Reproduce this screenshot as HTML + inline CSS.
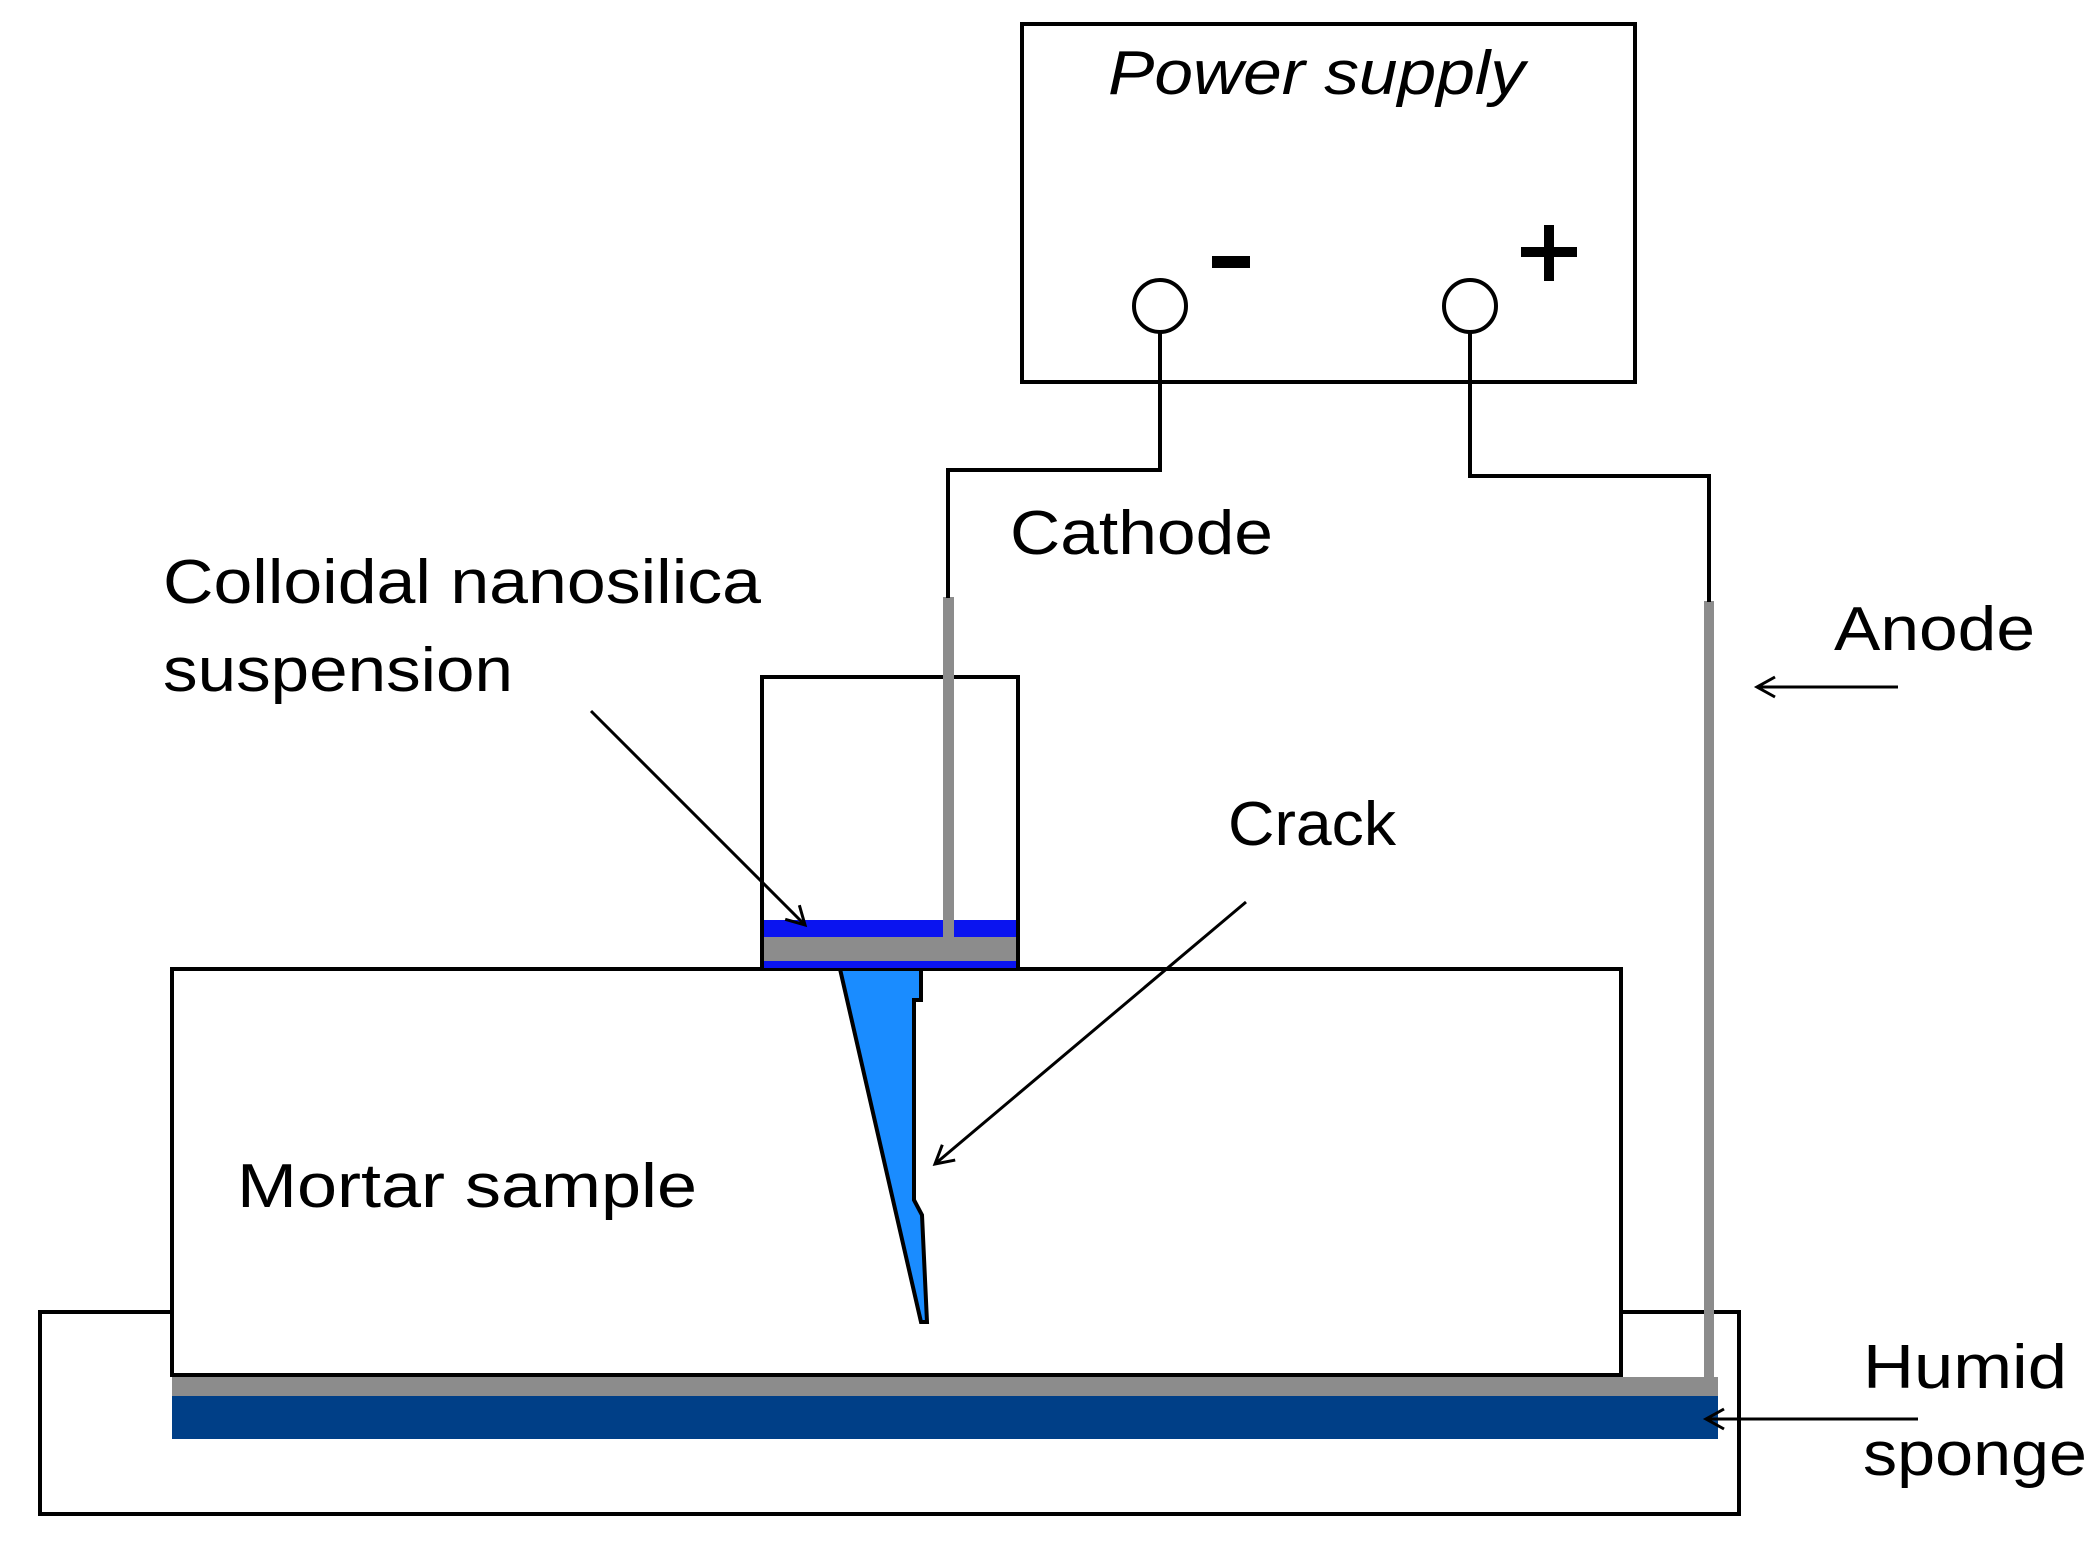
<!DOCTYPE html>
<html><head><style>
html,body{margin:0;padding:0;background:#fff;}
svg{display:block;}
text{font-family:"Liberation Sans",sans-serif;fill:#000;}
</style></head><body>
<svg width="2099" height="1549" viewBox="0 0 2099 1549" xmlns="http://www.w3.org/2000/svg">
<defs>
<marker id="ah" markerWidth="24" markerHeight="24" refX="20" refY="12" orient="auto" markerUnits="userSpaceOnUse">
<path d="M2,2 L20,12 L2,22" fill="none" stroke="#000" stroke-width="3"/>
</marker>
</defs>
<rect x="40" y="1312" width="1699" height="202" fill="#fff" stroke="#000" stroke-width="4"/>
<rect x="172" y="1396" width="1546" height="43" fill="#003f87"/>
<rect x="172" y="1377" width="1546" height="19" fill="#8c8c8c"/>
<rect x="172" y="969" width="1449" height="406" fill="#fff" stroke="#000" stroke-width="4"/>
<rect x="1704" y="601" width="10" height="790" fill="#8c8c8c"/>
<rect x="1621" y="1381" width="93" height="10" fill="#8c8c8c"/>
<polygon points="840,969 921,969 921,1000 914,1000 914,1200 922,1215 927,1322 921,1322" fill="#1a8cff" stroke="#000" stroke-width="4" stroke-linejoin="miter"/>
<rect x="762" y="677" width="256" height="291" fill="#fff" stroke="#000" stroke-width="4"/>
<rect x="764" y="920" width="252" height="17" fill="#0a14f0"/>
<rect x="764" y="937" width="252" height="24" fill="#8c8c8c"/>
<rect x="764" y="961" width="252" height="7" fill="#0a14f0"/>
<rect x="943" y="597" width="11" height="345" fill="#8c8c8c"/>
<rect x="1022" y="24" width="613" height="358" fill="#fff" stroke="#000" stroke-width="4"/>
<text x="1108" y="94" font-size="62" font-style="italic" textLength="417" lengthAdjust="spacingAndGlyphs">Power supply</text>
<circle cx="1160" cy="306" r="26" fill="#fff" stroke="#000" stroke-width="4"/>
<circle cx="1470" cy="306" r="26" fill="#fff" stroke="#000" stroke-width="4"/>
<rect x="1212" y="256" width="38" height="12" fill="#000"/>
<rect x="1521" y="247" width="56" height="10" fill="#000"/>
<rect x="1544" y="225" width="10" height="56" fill="#000"/>
<polyline points="1160,332 1160,470 948,470 948,598" fill="none" stroke="#000" stroke-width="4"/>
<polyline points="1470,332 1470,476 1709,476 1709,602" fill="none" stroke="#000" stroke-width="4"/>
<text x="1010" y="554" font-size="62" textLength="263" lengthAdjust="spacingAndGlyphs">Cathode</text>
<text x="163" y="603" font-size="62" textLength="598" lengthAdjust="spacingAndGlyphs">Colloidal nanosilica</text>
<text x="163" y="691" font-size="62" textLength="350" lengthAdjust="spacingAndGlyphs">suspension</text>
<text x="1834" y="650" font-size="62" textLength="201" lengthAdjust="spacingAndGlyphs">Anode</text>
<text x="1228" y="845" font-size="62" textLength="168" lengthAdjust="spacingAndGlyphs">Crack</text>
<text x="237" y="1207" font-size="62" textLength="460" lengthAdjust="spacingAndGlyphs">Mortar sample</text>
<text x="1863" y="1388" font-size="62" textLength="204" lengthAdjust="spacingAndGlyphs">Humid</text>
<text x="1863" y="1475" font-size="62" textLength="224" lengthAdjust="spacingAndGlyphs">sponge</text>
<line x1="591" y1="711" x2="805" y2="925" stroke="#000" stroke-width="3" marker-end="url(#ah)"/>
<line x1="1246" y1="902" x2="935" y2="1164" stroke="#000" stroke-width="3" marker-end="url(#ah)"/>
<line x1="1898" y1="687" x2="1757" y2="687" stroke="#000" stroke-width="3" marker-end="url(#ah)"/>
<line x1="1918" y1="1419" x2="1706" y2="1419" stroke="#000" stroke-width="3" marker-end="url(#ah)"/>
</svg>
</body></html>
